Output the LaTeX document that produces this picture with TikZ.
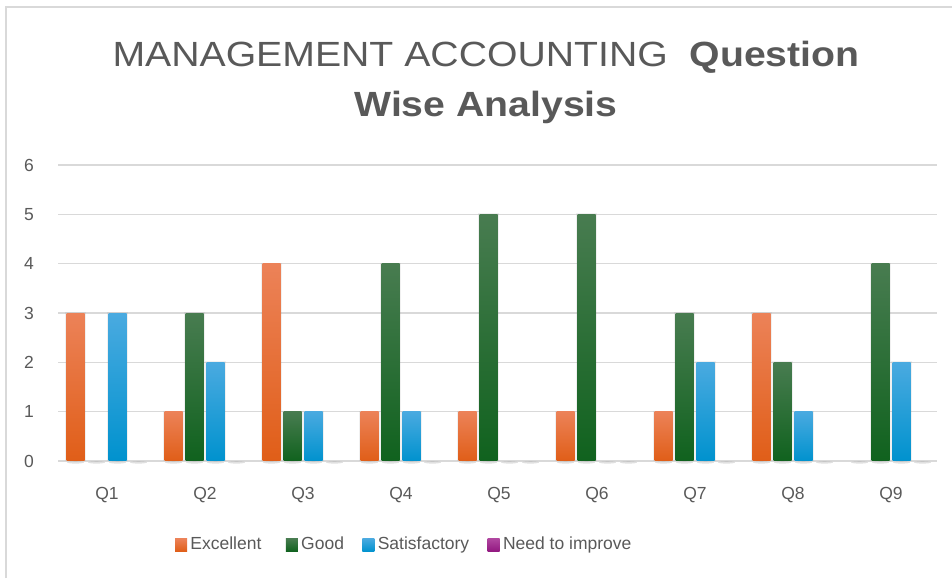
\documentclass[tikz,border=0pt]{standalone}
\usepackage{fontspec}
\setmainfont{Liberation Sans}
\newfontfamily\titlefont[FakeStretch=1.12]{Liberation Sans}
\usetikzlibrary{positioning}

\definecolor{txtgray}{RGB}{89,89,89}
\definecolor{gridgray}{RGB}{217,217,217}
\definecolor{exctop}{RGB}{236,130,88}
\definecolor{excmid}{RGB}{241,112,40}
\definecolor{excbot}{RGB}{224,94,24}
\definecolor{goodtop}{RGB}{72,124,80}
\definecolor{goodmid}{RGB}{24,108,36}
\definecolor{goodbot}{RGB}{16,98,30}
\definecolor{sattop}{RGB}{74,170,224}
\definecolor{satmid}{RGB}{0,158,220}
\definecolor{satbot}{RGB}{0,146,206}
\definecolor{needtop}{RGB}{176,70,160}
\definecolor{needmid}{RGB}{160,32,140}
\definecolor{needbot}{RGB}{146,24,128}

\tikzset{
  gridline/.style = {draw=gridgray, line width=1.2pt},
  axislabel/.style = {text=txtgray, font=\fontsize{17.5}{20}\selectfont, inner sep=0pt},
  titleline/.style = {text=txtgray, font=\titlefont\fontsize{35}{42}\selectfont, anchor=base, inner sep=0pt},
  legendbox/.style = {minimum width=12pt, minimum height=13pt, inner sep=0pt},
  legendtext/.style = {text=txtgray, font=\fontsize{17.5}{20}\selectfont, inner sep=0pt,
                       text height=12.5pt, text depth=3.5pt}
}

% one bar of a group: offset, value, colour prefix
\newcommand\qbar[3]{%
  \fill[gray!80, opacity=0.3] ({\grpx+#1+9},115.6) ellipse (8.5 and 1.2);
  \ifnum#2>0
    \fill[gray, opacity=0.12] ({\grpx+#1-1.5},117) rectangle ({\grpx+#1+19.5},{117+49.33*#2+1});
    \shade[top color=#3top, middle color=#3mid, bottom color=#3bot]
      ({\grpx+#1},117) rectangle ({\grpx+#1+18},{117+49.33*#2});
  \fi
}

\begin{document}
\begin{tikzpicture}[x=1pt, y=1pt]
  \useasboundingbox (0,0) rectangle (952,578);
  \draw[gridgray, line width=1.2pt] (6,0) -- (6,571) -- (952,571);

  % the title
  \node[titleline] (title1) at (486,511) {MANAGEMENT ACCOUNTING\ \ \textbf{Question}};
  \node[titleline] (title2) at (486,461) {\textbf{Wise Analysis}};

  % the value axis
  \foreach \v in {0,...,6} {
    \node[axislabel] (y\v) at (29,{117+49.33*\v}) {\v};
    \draw[gridline] (58,{117+49.33*\v}) -- (937,{117+49.33*\v});
  }

  % the bars
  \foreach \q/\e/\g/\s in {1/3/0/3, 2/1/3/2, 3/4/1/1, 4/1/4/1, 5/1/5/0,
                           6/1/5/0, 7/1/3/2, 8/3/2/1, 9/0/4/2} {
    \pgfmathsetmacro\grpx{9+98*\q}
    \qbar{-40.5}{\e}{exc}
    \qbar{-19.5}{\g}{good}
    \qbar{1.5}{\s}{sat}
    \qbar{22.5}{0}{need}
    \node[axislabel, anchor=base] (q\q) at (\grpx,79) {Q\q};
  }

  % the legend
  \node[legendbox, top color=exctop, bottom color=excbot] (leg exc) at (181,33) {};
  \node[legendtext, right=3pt of leg exc] (leg exc txt) {Excellent};
  \node[legendbox, top color=goodtop, bottom color=goodbot, right=24pt of leg exc txt] (leg good) {};
  \node[legendtext, right=3pt of leg good] (leg good txt) {Good};
  \node[legendbox, top color=sattop, bottom color=satbot, right=18pt of leg good txt] (leg sat) {};
  \node[legendtext, right=3pt of leg sat] (leg sat txt) {Satisfactory};
  \node[legendbox, top color=needtop, bottom color=needbot, right=18pt of leg sat txt] (leg need) {};
  \node[legendtext, right=3pt of leg need] (leg need txt) {Need to improve};
\end{tikzpicture}
\end{document}
